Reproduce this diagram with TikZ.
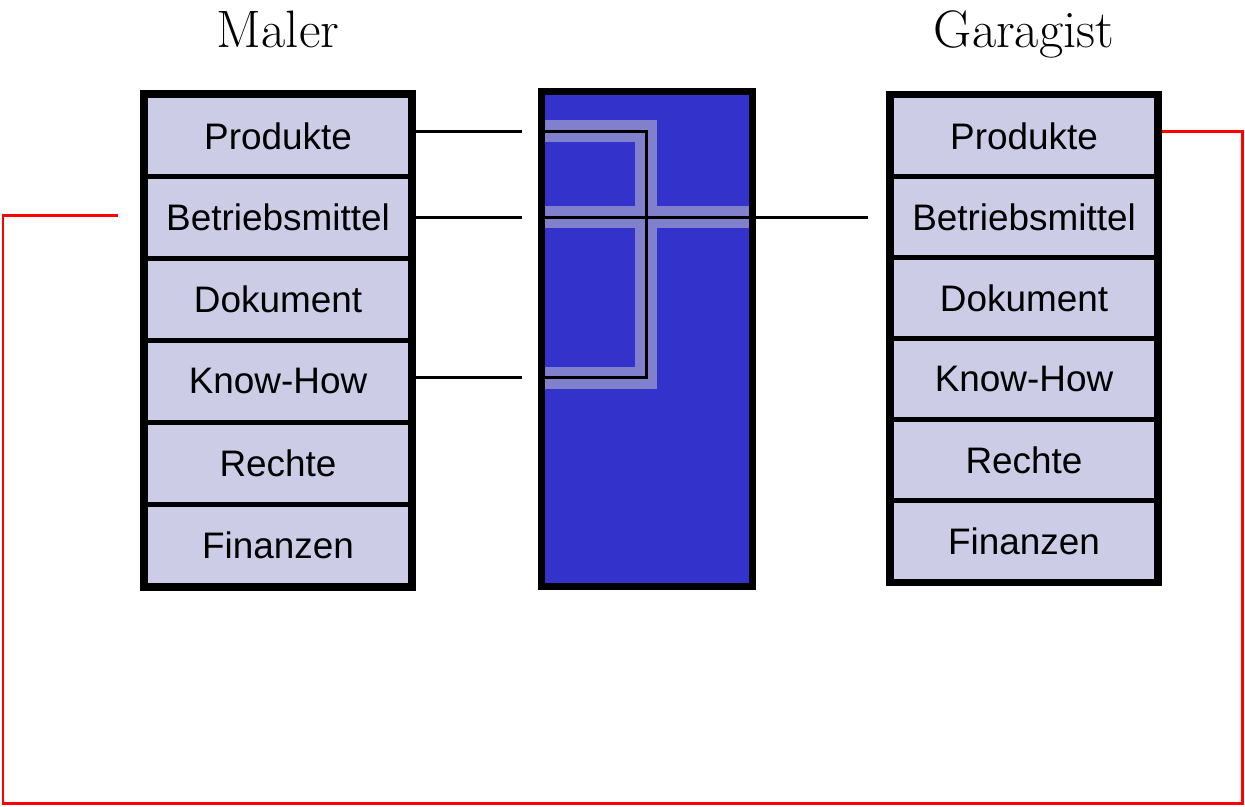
\documentclass[tikz,border=0pt]{standalone}
\usepackage{fontspec}
\newfontfamily\cellfont{Liberation Sans}
\usepackage{xcolor}
\usetikzlibrary{positioning}
\usetikzlibrary{fit}
\usetikzlibrary{calc}
\usetikzlibrary{math}

\definecolor{cellfill}{RGB}{204,204,230}
\definecolor{midblue}{RGB}{51,51,204}
\definecolor{casingcol}{RGB}{128,128,204}

\tikzset{
  cell/.style={draw, fill=cellfill, line width=0.10cm, outer sep=0pt, inner sep=0pt,
    minimum width=5.32cm, font=\cellfont\fontsize{21}{25}\selectfont},
  boxframe/.style={draw, line width=0.14cm, inner sep=0.03cm},
  title/.style={anchor=base, font=\fontsize{30}{36}\selectfont},
  wire/.style={line width=0.06cm},
  casing/.style={draw=casingcol, line width=0.44cm},
  redwire/.style={draw=red, line width=0.06cm}
}

\begin{document}
\begin{tikzpicture}[x=0.02cm, y=-0.02cm]

  \tikzmath{
    \mh = 1.636; % cell height, Maler
    \gh = 1.62;  % cell height, Garagist
  }

  \useasboundingbox (0,0) rectangle (1245,806);

  % Maler
  \node[title] (maler) at (278,47) {Maler};
  \node[cell, minimum height=\mh cm] (mProd) at (278,136) {Produkte};
  \node[cell, minimum height=\mh cm, below=0pt of mProd] (mBetr) {Betriebsmittel};
  \node[cell, minimum height=\mh cm, below=0pt of mBetr] (mDok) {Dokument};
  \node[cell, minimum height=\mh cm, below=0pt of mDok] (mKnow) {Know-How};
  \node[cell, minimum height=\mh cm, below=0pt of mKnow] (mRecht) {Rechte};
  \node[cell, minimum height=\mh cm, below=0pt of mRecht] (mFin) {Finanzen};
  \node[boxframe, fit=(mProd)(mFin)] (mFrame) {};

  % Garagist
  \node[title] (garagist) at (1024,47) {Garagist};
  \node[cell, minimum height=\gh cm] (gProd) at (1024,136) {Produkte};
  \node[cell, minimum height=\gh cm, below=0pt of gProd] (gBetr) {Betriebsmittel};
  \node[cell, minimum height=\gh cm, below=0pt of gBetr] (gDok) {Dokument};
  \node[cell, minimum height=\gh cm, below=0pt of gDok] (gKnow) {Know-How};
  \node[cell, minimum height=\gh cm, below=0pt of gKnow] (gRecht) {Rechte};
  \node[cell, minimum height=\gh cm, below=0pt of gRecht] (gFin) {Finanzen};
  \node[boxframe, fit=(gProd)(gFin)] (gFrame) {};

  % box in the middle
  \node[draw, fill=midblue, line width=0.14cm, outer sep=0pt,
    minimum width=4.22cm, minimum height=9.9cm] (mid) at (647,339) {};

  % free ends of the connectors
  \coordinate (p1) at (522,131);
  \coordinate (p2) at (522,217);
  \coordinate (p3) at (522,377.5);
  \coordinate (q1) at (545,131);
  \coordinate (q2) at (545,217);
  \coordinate (q3) at (545,377.5);
  \coordinate (c1) at (646,131);
  \coordinate (e2) at (749,217);
  \coordinate (g2) at (868,217);

  % light casing under the wires
  \draw[casing] (q1) -| (c1 |- q3) -- (q3);
  \draw[casing] (q2) -- (e2);

  % wires from the Maler
  \draw[wire] (p1 -| mFrame.east) -- (p1);
  \draw[wire] (p2 -| mFrame.east) -- (p2);
  \draw[wire] (p3 -| mFrame.east) -- (p3);
  \draw[wire] (q1) -| (c1 |- q3) -- (q3);
  \draw[wire] (q2) -- (g2);

  % red loop
  \coordinate (r0) at (118,215);
  \coordinate (r1) at (3,215);
  \coordinate (r2) at (3,803);
  \coordinate (r3) at (1242,803);
  \coordinate (r4) at (1242,131);
  \draw[redwire] (r0) -- (r1) -- (r2) -- (r3) -- (r4) -- (r4 -| gFrame.east);

\end{tikzpicture}
\end{document}
